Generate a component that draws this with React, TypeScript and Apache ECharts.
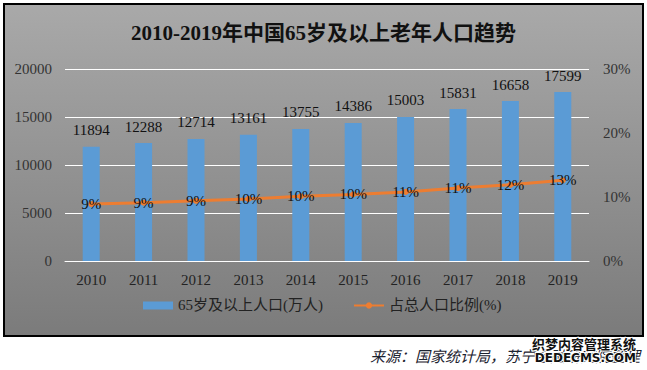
import React, { useEffect, useRef } from "react";
import * as echarts from "echarts";

const years = ["2010", "2011", "2012", "2013", "2014", "2015", "2016", "2017", "2018", "2019"];
const population65 = [11894, 12288, 12714, 13161, 13755, 14386, 15003, 15831, 16658, 17599];
const ratio65 = [8.9, 9.1, 9.4, 9.7, 10.1, 10.4, 10.8, 11.4, 11.9, 12.6];
const titleText = "2010-2019年中国65岁及以上老年人口趋势";
const barName = "65岁及以上人口(万人)";
const lineName = "占总人口比例(%)";
const sourceText = "来源：国家统计局，苏宁金融研究院整理";

const SERIF = "'Liberation Serif', 'Times New Roman', 'Noto Sans CJK SC', serif";

export default function App() {
  const ref = useRef<HTMLDivElement>(null);
  useEffect(() => {
    if (!ref.current) return;
    const chart = echarts.init(ref.current, undefined, { renderer: "svg" });
    chart.setOption({
      animation: false,
      backgroundColor: "#ffffff",
      textStyle: { fontFamily: SERIF },
      graphic: [
        {
          type: "rect",
          z: -10,
          shape: { x: 4, y: 4, width: 639, height: 332 },
          style: {
            fill: new echarts.graphic.LinearGradient(0, 0, 0, 1, [
              { offset: 0, color: "#a9a9a9" },
              { offset: 1, color: "#7b7b7b" },
            ]),
            stroke: "#000000",
            lineWidth: 2,
          },
        },
        {
          type: "text",
          right: 7,
          top: 348,
          style: {
            text: sourceText,
            fontSize: 15,
            fontStyle: "italic",
            fill: "#1c2330",
            fontFamily: "'Noto Sans CJK SC', sans-serif",
          },
        },
        {
          type: "text",
          right: 10,
          top: 336,
          z: 20,
          style: {
            text: "织梦内容管理系统",
            fontSize: 13,
            fontWeight: "bold",
            fill: "#111",
            stroke: "#fff",
            lineWidth: 2,
            fontFamily: "'Noto Sans CJK SC', sans-serif",
          },
        },
        {
          type: "text",
          right: 10,
          top: 351,
          z: 20,
          style: {
            text: "DEDECMS.COM",
            fontSize: 12,
            fontWeight: "bold",
            fill: "#111",
            stroke: "#fff",
            lineWidth: 2,
            fontFamily: "'DejaVu Sans', sans-serif",
          },
        },
      ],
      title: {
        text: titleText,
        left: "center",
        top: 17,
        textStyle: { fontSize: 21, fontWeight: "bold", color: "#111", fontFamily: SERIF },
      },
      legend: {
        bottom: 52,
        left: 138,
        itemWidth: 30,
        itemHeight: 8,
        itemGap: 30,
        textStyle: { fontSize: 15, color: "#222", fontFamily: SERIF },
        data: [
          { name: barName, icon: "rect" },
          { name: lineName },
        ],
      },
      grid: { left: 65, right: 58, top: 69, bottom: 109 },
      xAxis: {
        type: "category",
        data: years,
        axisLine: { lineStyle: { color: "#ffffff", width: 1 } },
        axisTick: { show: false },
        axisLabel: { fontSize: 15, color: "#222", margin: 11, fontFamily: SERIF },
      },
      yAxis: [
        {
          type: "value",
          min: 0,
          max: 20000,
          interval: 5000,
          axisLine: { show: false },
          axisTick: { show: false },
          splitLine: { lineStyle: { color: "#ffffff", width: 1 } },
          axisLabel: {
            fontSize: 15,
            color: "#333",
            margin: 13,
            fontFamily: SERIF,
            formatter: (v: number) => String(v),
          },
        },
        {
          type: "value",
          min: 0,
          max: 30,
          interval: 10,
          axisLine: { show: false },
          axisTick: { show: false },
          splitLine: { show: false },
          axisLabel: { fontSize: 15, color: "#333", margin: 14, formatter: "{value}%", fontFamily: SERIF },
        },
      ],
      series: [
        {
          name: barName,
          type: "bar",
          data: population65,
          barWidth: 17,
          itemStyle: { color: "#5b9bd5" },
          label: {
            show: true,
            position: "top",
            distance: 9,
            fontSize: 15,
            color: "#111",
            fontFamily: SERIF,
          },
        },
        {
          name: lineName,
          type: "line",
          yAxisIndex: 1,
          data: ratio65,
          symbol: "circle",
          symbolSize: 6,
          lineStyle: { color: "#ed7d31", width: 3 },
          itemStyle: { color: "#ed7d31" },
          label: {
            show: true,
            position: "inside",
            fontSize: 15,
            color: "#111",
            fontFamily: SERIF,
            formatter: (p: any) => Math.round(p.value) + "%",
          },
        },
      ],
    });
    return () => chart.dispose();
  }, []);
  return (
    <div
      ref={ref}
      style={{ position: "absolute", left: 0, top: 0, width: 647, height: 370 }}
    />
  );
}
